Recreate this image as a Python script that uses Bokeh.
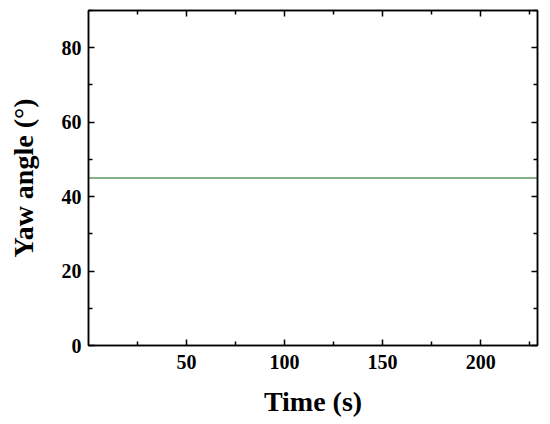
from bokeh.plotting import figure
from bokeh.models import LinearAxis, Range1d, FixedTicker, CustomJSTickFormatter
from bokeh.embed import file_html
from bokeh.resources import INLINE

time_s = [0, 50, 100, 150, 200, 229]
yaw_deg = [45, 45, 45, 45, 45, 45]
x_ticks = [50, 100, 150, 200]
x_minor = [25, 75, 125, 175, 225]
y_ticks = [0, 20, 40, 60, 80]
y_minor = [10, 30, 50, 70, 90]

FONT = "Liberation Serif"

p = figure(width=550, height=424, output_backend="svg", toolbar_location=None,
           x_range=Range1d(0, 229), y_range=Range1d(0, 90),
           frame_width=449, frame_height=335,
           min_border_left=88, min_border_right=13, min_border_top=10, min_border_bottom=79)
p.grid.visible = False
p.outline_line_color = "black"
p.outline_line_width = 1.5
p.background_fill_color = "white"
p.border_fill_color = "white"

p.line(time_s, yaw_deg, line_color="#0d600d", line_width=1.2)

def style(ax, labels=True):
    ax.axis_line_color = "black"
    ax.axis_line_width = 1.5
    ax.major_tick_in = 6
    ax.major_tick_out = 0
    ax.minor_tick_in = 4
    ax.minor_tick_out = 0
    ax.major_tick_line_width = 1.5
    ax.minor_tick_line_width = 1.5
    ax.major_label_text_font = FONT
    ax.major_label_text_font_style = "bold"
    ax.major_label_text_font_size = "20px"
    ax.major_label_text_color = "black"
    ax.axis_label_text_font = FONT
    ax.axis_label_text_font_style = "bold"
    ax.axis_label_text_font_size = "28px"
    ax.axis_label_text_color = "black"
    if not labels:
        ax.formatter = CustomJSTickFormatter(code="return ''")
        ax.major_label_standoff = 0

xt = FixedTicker(ticks=x_ticks, minor_ticks=x_minor)
yt = FixedTicker(ticks=y_ticks, minor_ticks=y_minor)

p.xaxis.ticker = xt
p.yaxis.ticker = yt
style(p.xaxis[0])
style(p.yaxis[0])
p.xaxis.axis_label = "Time (s)"
p.yaxis.axis_label = "Yaw angle (°)"
p.xaxis.major_label_standoff = 9
p.yaxis.major_label_standoff = 7
p.xaxis.axis_label_standoff = 14
p.yaxis.axis_label_standoff = 20

top = LinearAxis(ticker=FixedTicker(ticks=x_ticks, minor_ticks=x_minor))
style(top, labels=False)
p.add_layout(top, "above")
right = LinearAxis(ticker=FixedTicker(ticks=y_ticks, minor_ticks=y_minor))
style(right, labels=False)
p.add_layout(right, "right")

open("out.html", "w").write(file_html(p, INLINE))
